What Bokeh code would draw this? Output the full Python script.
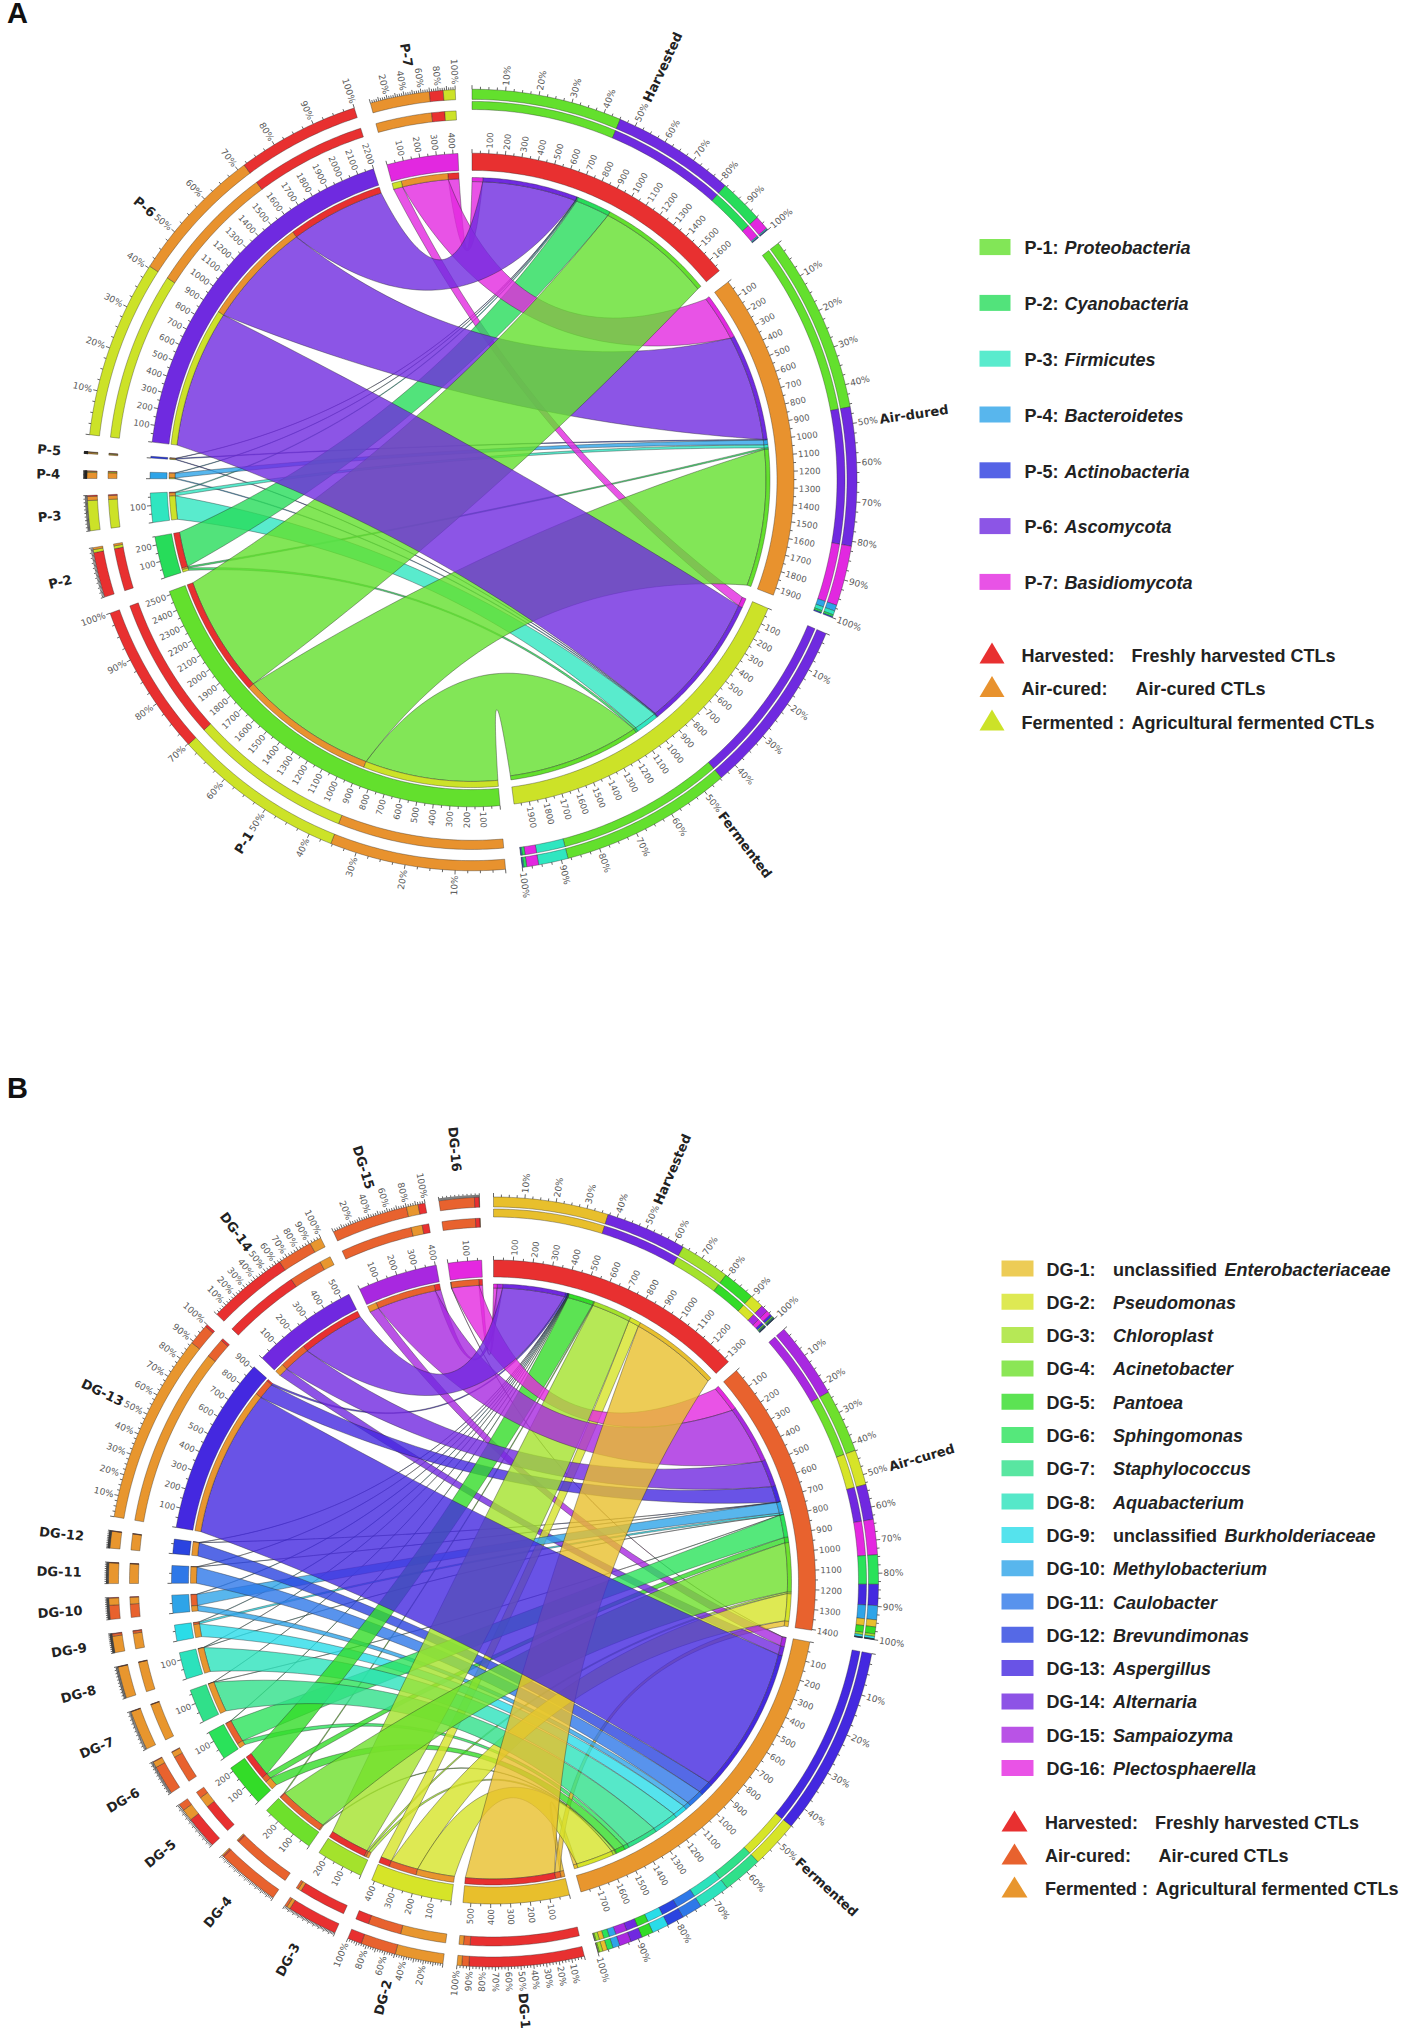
import math
from bokeh.plotting import figure
from bokeh.embed import file_html
from bokeh.resources import INLINE
from bokeh.core.properties import value

# ---------- data panel A ----------
a_taxa = ["P-1", "P-2", "P-3", "P-4", "P-5", "P-6", "P-7"]
a_samples = ["Harvested", "Air-dured", "Fermented"]
a_harvested = [760, 225, 5, 3, 2, 620, 70]
a_air = [890, 10, 20, 30, 5, 690, 300]
a_fermented = [870, 15, 150, 5, 3, 890, 60]
a_names = ["Proteobacteria", "Cyanobacteria", "Firmicutes", "Bacteroidetes",
           "Actinobacteria", "Ascomycota", "Basidiomycota"]
a_colors = ["#63e02d", "#27dc5a", "#2fe6c0", "#2ea4e8", "#2a3ce0", "#6f2ae0", "#e228e0"]
a_sample_colors = ["#e83030", "#e8922e", "#cce228"]

# ---------- data panel B ----------
b_taxa = ["DG-%d" % i for i in range(1, 17)]
b_samples = ["Harvested", "Air-cured", "Fermented"]
b_harvested = [490, 60, 215, 5, 140, 2, 1, 1, 2, 2, 1, 1, 10, 345, 30, 20]
b_air = [30, 150, 10, 270, 30, 125, 1, 1, 10, 60, 1, 1, 90, 150, 325, 150]
b_fermented = [20, 205, 15, 5, 50, 25, 170, 135, 70, 30, 88, 72, 810, 50, 50, 1]
b_prefix = ["unclassified", "", "", "", "", "", "", "", "unclassified", "", "", "", "", "", "", ""]
b_names = ["Enterobacteriaceae", "Pseudomonas", "Chloroplast", "Acinetobacter", "Pantoea",
           "Sphingomonas", "Staphylococcus", "Aquabacterium", "Burkholderiaceae", "Methylobacterium",
           "Caulobacter", "Brevundimonas", "Aspergillus", "Alternaria", "Sampaiozyma", "Plectosphaerella"]
b_colors = ["#e8bf2c", "#d6e428", "#a4e22c", "#6ee02c", "#33dc28", "#2ae25a", "#30e08a", "#2ce2bc",
            "#2adce8", "#2ea4e8", "#2e78e8", "#2a44e0", "#4428e0", "#7028e0", "#a828e0", "#e428e0"]
b_sample_colors = ["#e83030", "#e8622e", "#e8962e"]

legend_rows = [("Harvested:", "Freshly harvested CTLs"), ("Air-cured:", "Air-cured CTLs"),
               ("Fermented :", "Agricultural fermented CTLs")]

W, H = 1417, 2044
p = figure(width=W - 16, height=H - 16, x_range=(8, W - 8), y_range=(H - 8, 8),
           output_backend="svg", toolbar_location=None, min_border=0)
p.xaxis.visible = False
p.yaxis.visible = False
p.grid.visible = False
p.outline_line_color = None

GREY = "#5a5a5a"


def add_text(xs, ys, txt, angs, align, size, font="DejaVu Sans", style="normal", color="#222222", base="middle"):
    if not txt:
        return
    p.text(x=xs, y=ys, text=txt, angle=angs, angle_units="deg", text_align=align, text_baseline=base,
           text_font=value(font), text_font_size=size, text_font_style=style, text_color=color)


def chord(cx, cy, k, taxa, samples, flows, colors, scolors, gap, start):
    nT, nS = len(taxa), len(samples)
    def pos(r, d):
        t = math.radians(d)
        return cx + r * math.sin(t), cy - k * r * math.cos(t)
    def arc(r, a, b):
        n = max(2, int(abs(b - a) * 1.5) + 2)
        return [pos(r, a + (b - a) * i / (n - 1)) for i in range(n)]
    def band(r1, r2, a, b):
        pts = arc(r2, a, b) + arc(r1, b, a)
        return [q[0] for q in pts], [q[1] for q in pts]
    def bez(r1, a, r2, b):
        d = (b - a + 180) % 360 - 180
        mid = a + d / 2
        rc = min(r1, r2) * (0.55 - 0.45 * abs(d) / 180)
        p0, c, p2 = pos(r1, a), pos(rc, mid), pos(r2, b)
        out = []
        for i in range(1, 40):
            t = i / 40
            out.append(((1 - t) ** 2 * p0[0] + 2 * t * (1 - t) * c[0] + t * t * p2[0],
                        (1 - t) ** 2 * p0[1] + 2 * t * (1 - t) * c[1] + t * t * p2[1]))
        return out

    stotal = [sum(f) for f in flows]
    ttotal = [sum(flows[s][t] for s in range(nS)) for t in range(nT)]
    u = (360 - gap * (nS + nT)) / (sum(stotal) + sum(ttotal))

    RS_T, RT_T = 294, 297
    segs = []
    ang = start
    for s in range(nS):
        segs.append(("s", s, samples[s], stotal[s], ang, ang + stotal[s] * u))
        ang += stotal[s] * u + gap
    for t in range(nT):
        segs.append(("t", t, taxa[t], ttotal[t], ang, ang + ttotal[t] * u))
        ang += ttotal[t] * u + gap

    s_pos = {}
    for kind, i, _, tot, a, b in segs:
        if kind == "s":
            c = a
            for t in range(nT - 1, -1, -1):
                w = flows[i][t] * u
                s_pos[(i, t)] = (c, c + w)
                c += w
    t_pos = {}
    for kind, i, _, tot, a, b in segs:
        if kind == "t":
            c = a
            for s in range(nS - 1, -1, -1):
                w = flows[s][i] * u
                t_pos[(s, i)] = (c, c + w)
                c += w
    order = sorted([(flows[s][t], s, t) for s in range(nS) for t in range(nT)])
    rx, ry, rc = [], [], []
    for _, s, t in order:
        a1, a2 = t_pos[(s, t)]
        b1, b2 = s_pos[(s, t)]
        pts = arc(RT_T, a1, a2) + bez(RT_T, a2, RS_T, b1) + arc(RS_T, b1, b2) + bez(RS_T, b2, RT_T, a1)
        rx.append([q[0] for q in pts]); ry.append([q[1] for q in pts]); rc.append(colors[t])
    p.patches(rx, ry, fill_color=rc, fill_alpha=0.8, line_color="#222222", line_alpha=0.55, line_width=0.7)

    bx, by, bc = [], [], []
    tick_x, tick_y = [], []
    right = ([], [], [], []); left = ([], [], [], [])
    pr = ([], [], [], []); pl = ([], [], [], [])
    nr = ([], [], [], []); nl = ([], [], [], [])

    def put(tr, tl, r, d, s):
        x, y = pos(r, d)
        d = d % 360
        if d < 180:
            tr[0].append(x); tr[1].append(y); tr[2].append(s); tr[3].append(90 - d)
        else:
            tl[0].append(x); tl[1].append(y); tl[2].append(s); tl[3].append(270 - d)

    for kind, i, name, tot, a, b in segs:
        col = scolors[i] if kind == "s" else colors[i]
        x, y = band(305, 322, a, b)
        bx.append(x); by.append(y); bc.append(col)
        r1, r2 = (294, 298) if kind == "s" else (297, 303)
        parts = [(t, s_pos[(i, t)]) for t in range(nT)] if kind == "s" else [(s, t_pos[(s, i)]) for s in range(nS)]
        for j, (c1, c2) in parts:
            x, y = band(r1, r2, c1, c2)
            bx.append(x); by.append(y); bc.append(colors[j] if kind == "s" else scolors[j])
        vals = [(flows[i][j] if kind == "s" else flows[j][i], j) for j in range(nT if kind == "s" else nS)]
        vals.sort(key=lambda v: -v[0])
        inner = (365, 373) if kind == "s" else (355, 364)
        c = a
        for v, j in vals:
            w = v * u
            pal = colors[j] if kind == "s" else scolors[j]
            for rr in (inner, (375, 385)):
                x, y = band(rr[0], rr[1], c, c + w)
                bx.append(x); by.append(y); bc.append(pal)
            c += w
        v = 0
        while v <= tot:
            d = a + v * u
            L = 4 if v % 100 == 0 else 2.5
            x0, y0 = pos(322, d); x1, y1 = pos(322 + L, d)
            tick_x.append([x0, x1]); tick_y.append([y0, y1])
            if v % 100 == 0 and v > 0:
                put(right, left, 327, d, str(v))
            v += 50
        span = b - a
        step = 10 if span >= 18 else (20 if span >= 12 else 0)
        for q10 in range(0, 1001, 25):
            d = a + span * q10 / 1000
            major = q10 % 100 == 0
            L = 4 if major else 2.5
            x0, y0 = pos(385, d); x1, y1 = pos(385 + L, d)
            tick_x.append([x0, x1]); tick_y.append([y0, y1])
            if step and major and (q10 // 10) % step == 0 and q10 > 0:
                put(pr, pl, 390, d, "%d%%" % (q10 // 10))
        put(nr, nl, 412, (a + b) / 2, name)

    p.patches(bx, by, fill_color=bc, line_color="#222222", line_alpha=0.7, line_width=0.5)
    p.multi_line(tick_x, tick_y, line_color="#222222", line_width=0.7)
    for t, al in ((right, "left"), (left, "right")):
        add_text(t[0], t[1], t[2], t[3], al, "8.5px", color=GREY)
    for t, al in ((pr, "left"), (pl, "right")):
        add_text(t[0], t[1], t[2], t[3], al, "9px", color=GREY)
    for t, al in ((nr, "left"), (nl, "right")):
        add_text(t[0], t[1], t[2], t[3], al, "13px", style="bold", color="#222222")


chord(479.5, 487.5, 1.015, a_taxa, a_samples, [a_harvested, a_air, a_fermented], a_colors, a_sample_colors, 2.5, 0.0)
chord(501, 1589.5, 1.0, b_taxa, b_samples, [b_harvested, b_air, b_fermented], b_colors, b_sample_colors, 2.1, 0.0)

AR = "Liberation Sans"
add_text([25], [20], ["A"], [0], "center", "29px", font=AR, style="bold", color="#111111")
add_text([25], [1095], ["B"], [0], "center", "29px", font=AR, style="bold", color="#111111")


def tri(x0, x1, tip, base, color):
    p.patch([x0, x1, (x0 + x1) / 2], [base, base, tip], fill_color=color, line_color=None)


# legend A
for i, (tx, nm) in enumerate(zip(a_taxa, a_names)):
    y = 255.8 + 55.8 * i
    p.rect([1002.5], [y - 1.2], width=31, height=16, fill_color=a_colors[i], fill_alpha=0.8, line_color=None)
    add_text([1032], [y], [tx + ":"], [0], "left", "18px", font=AR, style="bold")
    add_text([1072], [y], [nm], [0], "left", "18px", font=AR, style="bold italic")
for i, (l, r) in enumerate(legend_rows):
    y = 663 + 33.5 * i
    tri(987, 1012, y - 13, y + 8, a_sample_colors[i])
    add_text([1029], [y], [l], [0], "left", "18px", font=AR, style="bold")
    add_text([[1139, 1143, 1139][i]], [y], [r], [0], "left", "18px", font=AR, style="bold")

# legend B
for i, (tx, nm) in enumerate(zip(b_taxa, b_names)):
    y = 1277 + 33.3 * i
    p.rect([1025], [y - 1], width=32, height=16, fill_color=b_colors[i], fill_alpha=0.8, line_color=None)
    add_text([1054], [y], [tx + ":"], [0], "left", "18px", font=AR, style="bold")
    if b_prefix[i]:
        add_text([1120.5], [y], [b_prefix[i]], [0], "left", "18px", font=AR, style="bold")
        add_text([1232], [y], [nm], [0], "left", "18px", font=AR, style="bold italic")
    else:
        add_text([1120.5], [y], [nm], [0], "left", "18px", font=AR, style="bold italic")
for i, (l, r) in enumerate(legend_rows):
    y = 1830 + 33 * i
    tri(1009, 1035, y - 12, y + 9, b_sample_colors[i])
    add_text([1052.5], [y], [l], [0], "left", "18px", font=AR, style="bold")
    add_text([[1162.5, 1166, 1163][i]], [y], [r], [0], "left", "18px", font=AR, style="bold")

open("out.html", "w").write(file_html(p, INLINE))
